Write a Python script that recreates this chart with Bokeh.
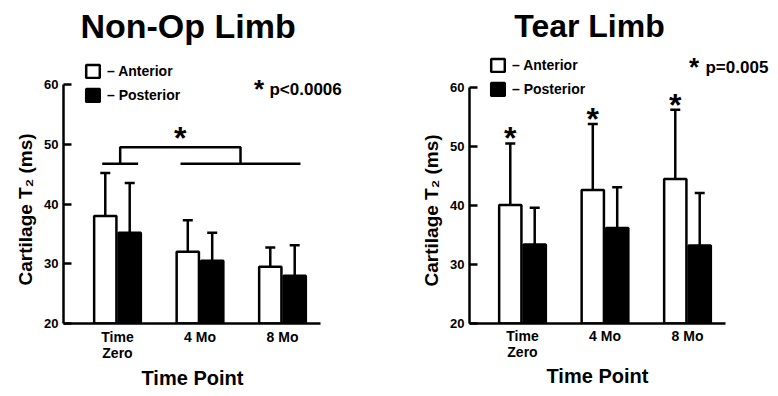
import numpy as np
from bokeh.plotting import figure
from bokeh.models import (ColumnDataSource, Range1d, FixedTicker, Whisker, TeeHead,
                          Legend, LegendItem, Title)
from bokeh.layouts import row
from bokeh.embed import file_html
from bokeh.resources import INLINE
from bokeh.core.properties import value

FONT = "Liberation Sans"

# ---------------- data ----------------
time_points = ["Time\nZero", "4 Mo", "8 Mo"]
series_labels = ["\u2013 Anterior", "\u2013 Posterior"]
y_ticks = [20, 30, 40, 50, 60]
y_label = "Cartilage T\u2082 (ms)"
x_label = "Time Point"

nonop_anterior_mean = [38.0, 32.0, 29.5]
nonop_anterior_sd = [7.2, 5.3, 3.2]
nonop_posterior_mean = [35.2, 30.5, 28.0]
nonop_posterior_sd = [8.3, 4.7, 5.1]

tear_anterior_mean = [40.1, 42.6, 44.5]
tear_anterior_sd = [10.4, 11.2, 11.7]
tear_posterior_mean = [33.4, 36.2, 33.2]
tear_posterior_sd = [6.2, 6.9, 8.9]

nonop_title = "Non-Op Limb"
tear_title = "Tear Limb"
nonop_p = "p<0.0006"
tear_p = "p=0.005"

H = 396
Y_MIN, Y_MAX = 20, 60


def make_chart(am, asd, pm, psd, width, border_left, border_bottom,
               x_range, y_top, x_bounds, legend_loc, xlab_offset, ylab_offset,
               xlab_standoff, tick_standoff, tick_line_height):
    p = figure(width=width, height=H,
               x_range=Range1d(*x_range), y_range=Range1d(Y_MIN, y_top),
               output_backend="svg", toolbar_location=None,
               min_border_left=border_left, min_border_right=0,
               min_border_top=0, min_border_bottom=border_bottom,
               outline_line_color=None,
               background_fill_color="white", border_fill_color="white")
    p.xgrid.visible = False
    p.ygrid.visible = False

    groups = np.arange(1, len(time_points) + 1, dtype=float)
    half = 0.148
    src = ColumnDataSource(dict(
        xa=groups - half, xp=groups + half,
        am=am, pm=pm,
        au=[m + s for m, s in zip(am, asd)],
        pu=[m + s for m, s in zip(pm, psd)],
    ))
    ra = p.vbar(x="xa", top="am", bottom=Y_MIN, width=0.27, source=src,
                fill_color="white", line_color="black", line_width=2.5)
    rp = p.vbar(x="xp", top="pm", bottom=Y_MIN, width=0.27, source=src,
                fill_color="black", line_color="black", line_width=2.5)
    for base, low, up in (("xa", "am", "au"), ("xp", "pm", "pu")):
        p.add_layout(Whisker(base=base, lower=low, upper=up, source=src,
                             line_color="black", line_width=2.5,
                             lower_head=None,
                             upper_head=TeeHead(size=10, line_width=2.5,
                                                line_color="black")))

    ya = p.yaxis[0]
    ya.ticker = FixedTicker(ticks=y_ticks)
    ya.bounds = (Y_MIN, Y_MAX)
    ya.major_label_text_font = FONT
    ya.major_label_text_font_style = "bold"
    ya.major_label_text_font_size = "13px"
    ya.major_label_standoff = 5
    ya.major_tick_in = 8
    ya.major_tick_out = 0
    ya.minor_tick_in = 0
    ya.minor_tick_out = 0
    ya.axis_line_width = 2.5
    ya.major_tick_line_width = 2.5
    ya.axis_line_color = "black"
    ya.major_tick_line_color = "black"
    ya.major_label_text_color = "black"

    xa = p.xaxis[0]
    xa.ticker = FixedTicker(ticks=list(groups))
    xa.major_label_overrides = {int(g): lab for g, lab in zip(groups, time_points)}
    xa.bounds = x_bounds
    xa.major_label_text_font = FONT
    xa.major_label_text_font_style = "bold"
    xa.major_label_text_font_size = "14px"
    xa.major_label_text_line_height = tick_line_height
    xa.major_label_standoff = tick_standoff
    xa.major_tick_in = 0
    xa.major_tick_out = 0
    xa.minor_tick_in = 0
    xa.minor_tick_out = 0
    xa.axis_line_width = 2.5
    xa.axis_line_color = "black"
    xa.major_label_text_color = "black"

    # axis titles placed in the side panels
    p.add_layout(Title(text=y_label, align="left", offset=ylab_offset, standoff=11,
                       text_font=FONT, text_font_style="bold", text_font_size="19px",
                       text_color="black"), "left")
    p.add_layout(Title(text=x_label, align="left", offset=xlab_offset,
                       standoff=xlab_standoff,
                       text_font=FONT, text_font_style="bold", text_font_size="20px",
                       text_color="black"), "below")

    legend = Legend(items=[LegendItem(label=series_labels[0], renderers=[ra]),
                           LegendItem(label=series_labels[1], renderers=[rp])],
                    location=legend_loc, orientation="vertical",
                    glyph_width=17, glyph_height=16, label_height=16,
                    spacing=8, label_standoff=6, padding=0, margin=0,
                    border_line_color=None, background_fill_alpha=0,
                    label_text_font=FONT, label_text_font_style="bold",
                    label_text_font_size="14px", label_text_color="black")
    p.add_layout(legend)
    return p, groups, half


def add_text(p, x, y, text, size, align="left"):
    p.text(x=x, y=y, text=text, text_font=value(FONT), text_font_style="bold",
           text_font_size=size, text_align=align, text_baseline="middle",
           text_color="black")


# ---------------- Non-Op chart ----------------
p1, g, half = make_chart(nonop_anterior_mean, nonop_anterior_sd,
                         nonop_posterior_mean, nonop_posterior_sd,
                         width=389, border_left=63, border_bottom=H - 323,
                         x_range=(0.3455, 4.297), y_top=74.06,
                         x_bounds=(0.3455, 3.46), legend_loc=(21, 220),
                         xlab_offset=78, ylab_offset=38,
                         xlab_standoff=1, tick_standoff=5, tick_line_height=1.05)
add_text(p1, [1.855], [69.76], [nonop_title], "34px", "center")
add_text(p1, [2.715], [59.25], ["*"], "26px", "center")
add_text(p1, [2.842], [59.15], [nonop_p], "17px", "left")

# bracket: Time Zero vs (4 Mo, 8 Mo)
low_y, high_y = 46.73, 49.5
left_span = (g[0] - 0.185, g[0] + 0.25)
right_span = (g[1] - 0.236, g[2] + 0.218)
mid_l = sum(left_span) / 2
mid_r = sum(right_span) / 2
p1.multi_line(xs=[list(left_span), list(right_span), [mid_l, mid_l, mid_r, mid_r]],
              ys=[[low_y, low_y], [low_y, low_y], [low_y, high_y, high_y, low_y]],
              line_color="black", line_width=2.5)
add_text(p1, [(mid_l + mid_r) / 2], [high_y + 1.58], ["*"], "32px", "center")

# ---------------- Tear chart ----------------
p2, g2, half2 = make_chart(tear_anterior_mean, tear_anterior_sd,
                           tear_posterior_mean, tear_posterior_sd,
                           width=388, border_left=80, border_bottom=H - 327,
                           x_range=(0.3576, 4.091), y_top=74.73,
                           x_bounds=(0.3576, 3.46), legend_loc=(20, 226),
                           xlab_offset=77, ylab_offset=37,
                           xlab_standoff=0, tick_standoff=4, tick_line_height=1.0)
add_text(p2, [1.812], [70.44], [tear_title], "32px", "center")
add_text(p2, [3.079], [63.5], ["*"], "26px", "center")
add_text(p2, [3.218], [63.45], [tear_p], "17px", "left")
star_y = [m + s + 0.85 for m, s in zip(tear_anterior_mean, tear_anterior_sd)]
add_text(p2, list(g2 - half2), star_y, ["*"] * len(g2), "32px", "center")

layout = row(p1, p2)
open("out.html", "w").write(file_html(layout, INLINE))
